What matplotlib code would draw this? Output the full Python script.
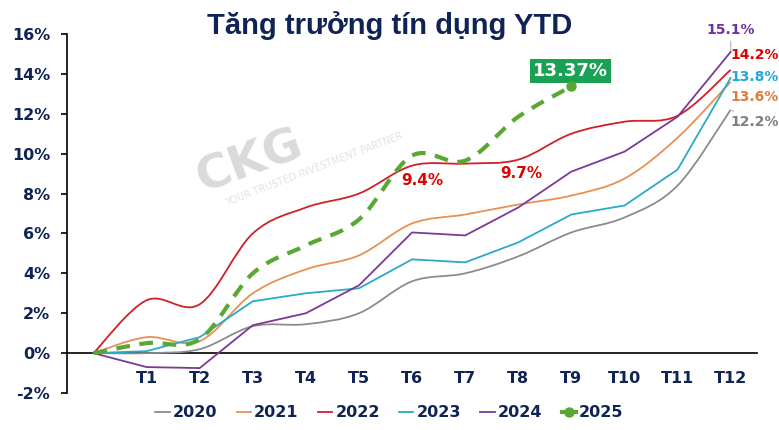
from __future__ import annotations

import matplotlib

matplotlib.use("Agg")
import matplotlib.pyplot as plt
import numpy as np
from matplotlib.lines import Line2D
from matplotlib.patches import PathPatch
from matplotlib.path import Path


title = "T\u0103ng tr\u01b0\u1edfng t\u00edn d\u1ee5ng YTD"
months = ["", "T1", "T2", "T3", "T4", "T5", "T6", "T7", "T8", "T9", "T10", "T11", "T12"]

y2020 = [0.0, 0.0, 0.2, 1.35, 1.45, 2.0, 3.6, 4.0, 4.85, 6.05, 6.8, 8.4, 12.2]
y2021 = [0.0, 0.8, 0.6, 3.0, 4.2, 4.9, 6.5, 6.95, 7.45, 7.9, 8.75, 10.8, 13.6]
y2022 = [0.0, 2.65, 2.45, 6.0, 7.3, 8.0, 9.4, 9.5, 9.7, 11.0, 11.6, 11.9, 14.2]
y2023 = [0.0, 0.1, 0.8, 2.6, 3.0, 3.25, 4.7, 4.55, 5.55, 6.95, 7.4, 9.2, 13.8]
y2024 = [0.0, -0.7, -0.75, 1.4, 2.0, 3.4, 6.05, 5.9, 7.3, 9.1, 10.1, 11.85, 15.1]
y2025 = [0.0, 0.5, 0.7, 4.0, 5.4, 6.7, 9.9, 9.65, 11.85, 13.37]

years = ["2020", "2021", "2022", "2023", "2024"]
year_values = [y2020, y2021, y2022, y2023, y2024]
year_colors = ["#8c8c8c", "#e69155", "#d0202a", "#2aa9c9", "#7b3a96"]
year_smooth = [True, True, True, False, False]

end_labels = ["12.2%", "13.6%", "14.2%", "13.8%", "15.1%"]
end_label_colors = ["#7f7f7f", "#e07b39", "#e00000", "#1fa8d8", "#7030a0"]
end_label_leader = [True, False, False, False, True]

navy = "#0f2355"
green = "#5aa832"


def _smooth_path(xs: np.ndarray, ys: np.ndarray) -> Path:
    # bezier through every point, close to Excel's smoothed line
    pts = np.column_stack([xs, ys])
    verts = [pts[0]]
    codes = [Path.MOVETO]
    n = len(pts)
    for i in range(n - 1):
        p_prev = pts[max(i - 1, 0)]
        p0 = pts[i]
        p1 = pts[i + 1]
        p_next = pts[min(i + 2, n - 1)]
        c1 = p0 + (p1 - p_prev) / 6.0
        c2 = p1 - (p_next - p0) / 6.0
        verts.extend([c1, c2, p1])
        codes.extend([Path.CURVE4] * 3)
    return Path(verts, codes)


def _add_line(ax, values, color, smooth=True, lw=1.3, ls="-"):
    xs = np.arange(len(values), dtype=float)
    ys = np.asarray(values, dtype=float) / 100.0
    if not smooth:
        ax.plot(xs, ys, color=color, lw=lw, ls=ls, zorder=3)
        return
    patch = PathPatch(
        _smooth_path(xs, ys),
        facecolor="none",
        edgecolor=color,
        lw=lw,
        linestyle=ls,
        capstyle="butt",
        zorder=3,
    )
    ax.add_patch(patch)


def main() -> None:
    fig = plt.figure(figsize=(7.79, 4.30), dpi=100)
    ax = fig.add_axes([0.086, 0.086, 0.886, 0.835])

    for values, color, smooth in zip(year_values, year_colors, year_smooth):
        _add_line(ax, values, color, smooth=smooth)
    _add_line(ax, y2025, green, lw=3.0, ls=(0, (3.3, 2.3)))
    ax.plot(len(y2025) - 1, y2025[-1] / 100.0, "o", color=green, ms=6.5, zorder=4)

    ax.set_xlim(-0.5, 12.5)
    ax.set_ylim(-0.02, 0.16)
    ax.set_yticks(np.arange(-0.02, 0.161, 0.02))
    ax.set_yticklabels([f"{v:.0f}%" for v in np.arange(-2, 17, 2)])
    ax.set_xticks(range(len(months)))
    ax.set_xticklabels(months)

    for spine in ("top", "right"):
        ax.spines[spine].set_visible(False)
    ax.spines["bottom"].set_position(("data", 0))
    ax.spines["bottom"].set_linewidth(1.2)
    ax.spines["left"].set_linewidth(1.2)
    ax.tick_params(axis="x", length=0, pad=13)
    ax.tick_params(axis="y", length=4, direction="out", width=1.2, pad=8)
    for lab in ax.get_xticklabels() + ax.get_yticklabels():
        lab.set_fontweight("bold")
        lab.set_fontsize(11.5)
        lab.set_color(navy)

    # watermark
    ax.text(2.95, 0.096, "CKG", fontsize=34, fontweight="bold", color="#dadada",
            rotation=20, ha="center", va="center", zorder=0)
    ax.text(4.15, 0.092, "YOUR TRUSTED INVESTMENT PARTNER", fontsize=7,
            color="#e2e2e2", rotation=21, ha="center", va="center", zorder=0)

    fig.text(0.5, 0.94, title, ha="center", va="center",
             fontsize=21, fontweight="bold", color=navy,
             family=["Liberation Sans", "DejaVu Sans"])

    # end-of-year labels, a few with short leader lines
    label_pos = [(12.0, 0.116), (12.0, 0.1285), (12.0, 0.1495), (12.0, 0.1385), (11.55, 0.162)]
    for (lx, ly), text, color, values, leader in zip(
        label_pos, end_labels, end_label_colors, year_values, end_label_leader
    ):
        arrow = None
        if leader:
            arrow = dict(arrowstyle="-", color="#a6a6a6", lw=0.7, shrinkA=1, shrinkB=1)
        ax.annotate(text, xy=(12, values[-1] / 100.0), xytext=(lx, ly),
                    color=color, fontsize=10, fontweight="bold",
                    ha="left", va="center", annotation_clip=False,
                    arrowprops=arrow)

    ax.text(6.2, 0.0865, "9.4%", color="#e00000", fontsize=11, fontweight="bold",
            ha="center", va="center")
    ax.text(8.05, 0.0900, "9.7%", color="#e00000", fontsize=11, fontweight="bold",
            ha="center", va="center")
    ax.text(8.98, 0.1415, "13.37%", color="white", fontsize=13, fontweight="bold",
            ha="center", va="center",
            bbox=dict(boxstyle="square,pad=0.15", fc="#1aa254", ec="none"))

    handles = [Line2D([], [], color=c, lw=1.3) for c in year_colors]
    handles.append(Line2D([], [], color=green, lw=3.0, marker="o", ms=6.5))
    leg = fig.legend(handles, years + ["2025"], loc="center",
                     bbox_to_anchor=(0.5, 0.04), ncol=6, frameon=False,
                     handlelength=0.9, handletextpad=0.2, columnspacing=1.2,
                     prop={"weight": "bold", "size": 11.5})
    for t in leg.get_texts():
        t.set_color(navy)

    fig.savefig("out.png", dpi=100)
    plt.close(fig)


if __name__ == "__main__":
    main()
